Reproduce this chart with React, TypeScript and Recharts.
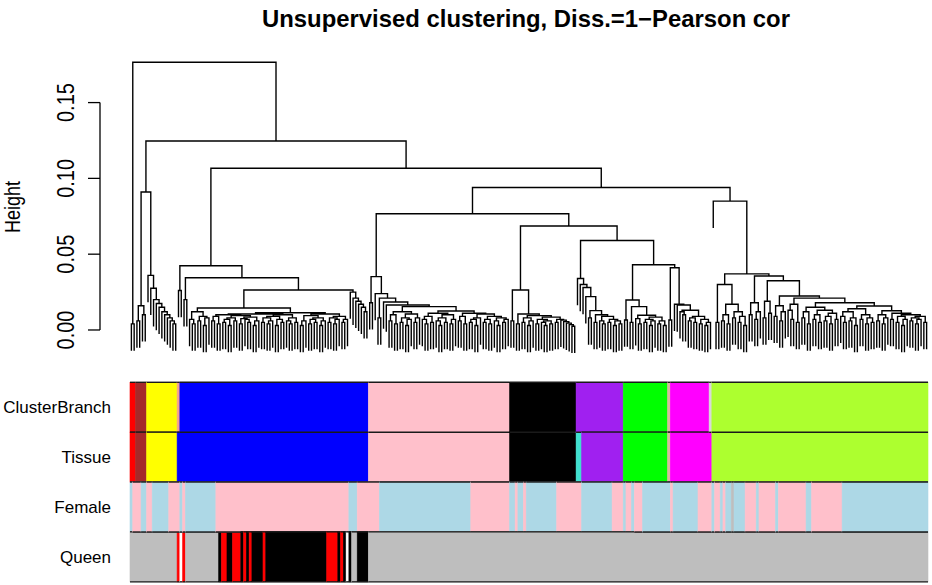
import React from "react";
import { LineChart, Line, XAxis, YAxis, ReferenceLine, BarChart, Bar } from "recharts";

// Dendrogram, stored as the merge height between each pair of neighbouring leaves
// (leaf order left to right). Grouped by module; joinHeights link the modules.
const redGaps = [0.004];
const brownGaps = [0.006, 0.016, 0.01];
const yellowGaps = [0.036, 0.0275, 0.02, 0.0175, 0.015, 0.012, 0.01, 0.008, 0.006, 0.004];
const blueGaps = [
  0.026, 0.0424, 0.02, 0.0345,
  0.007, 0.004, 0.012, 0.006, 0.009, 0.003, 0.008,
  0.0145,
  0.006, 0.009, 0.004, 0.01, 0.005, 0.007, 0.003, 0.008, 0.006, 0.0095, 0.004, 0.0075,
  0.007, 0.005, 0.0085, 0.003, 0.006, 0.0105, 0.005, 0.008, 0.004, 0.006, 0.009, 0.003,
  0.007, 0.005, 0.01, 0.006, 0.004, 0.008, 0.005, 0.0114, 0.003, 0.006, 0.0095, 0.004,
  0.007, 0.005, 0.008, 0.003, 0.006, 0.0105, 0.005, 0.008, 0.004, 0.007, 0.009, 0.005, 0.007,
  0.0264,
  0.025, 0.021, 0.019, 0.017, 0.015, 0.012,
];
const pinkGaps = [
  0.018, 0.0352, 0.024, 0.008, 0.021, 0.0185, 0.0165,
  0.006, 0.01, 0.004, 0.012, 0.005, 0.008, 0.003, 0.007, 0.0105, 0.005, 0.008,
  0.0154,
  0.007, 0.004, 0.009, 0.005, 0.011, 0.006, 0.003, 0.008, 0.005, 0.01, 0.004, 0.007,
  0.0125,
  0.006, 0.009, 0.004, 0.011, 0.005, 0.007, 0.003, 0.008, 0.0105, 0.005, 0.007, 0.004,
  0.009, 0.006, 0.003, 0.008, 0.005, 0.007,
];
const blackGaps = [
  0.006, 0.0264, 0.004, 0.0105, 0.005, 0.008, 0.003, 0.006, 0.0095, 0.004, 0.007, 0.005,
  0.003, 0.006, 0.004, 0.0085, 0.005, 0.007, 0.0065, 0.0055, 0.0045, 0.0035, 0.0025,
];
const purpleGaps = [0.034, 0.03, 0.028, 0.022, 0.008, 0.0128, 0.005, 0.01, 0.006, 0.004, 0.009, 0.005, 0.007, 0.003, 0.006, 0.004];
const greenGaps = [0.0066, 0.0198, 0.005, 0.0154, 0.0075, 0.004, 0.0097, 0.005, 0.007, 0.003, 0.006, 0.0085, 0.004, 0.006, 0.003];
const magentaGaps = [0.0066, 0.041, 0.017, 0.0165, 0.012, 0.01, 0.013, 0.006, 0.008, 0.005, 0.009, 0.004, 0.007, 0.003, 0.005];
const greenyellowGaps = [
  0.085, 0.005, 0.03, 0.006, 0.01, 0.004, 0.017, 0.008, 0.012, 0.005, 0.009, 0.003,
  0.037, 0.01, 0.018, 0.007, 0.012, 0.0356, 0.008, 0.019, 0.011, 0.0325,
  0.009, 0.016, 0.006, 0.012, 0.0224, 0.013, 0.007, 0.017, 0.005, 0.021,
  0.008, 0.012, 0.004, 0.015, 0.007, 0.01, 0.005, 0.013, 0.006, 0.009, 0.004, 0.011, 0.007,
  0.018,
  0.009, 0.005, 0.012, 0.006, 0.008, 0.003, 0.014, 0.007, 0.01, 0.004, 0.008, 0.005,
  0.0158,
  0.006, 0.01, 0.004, 0.008, 0.0127, 0.007, 0.011, 0.005, 0.009, 0.003, 0.007, 0.01,
  0.006, 0.008, 0.004, 0.007, 0.009, 0.005,
];
const joinHeights = [0.1766, 0.091, 0.1247, 0.1067, 0.0767, 0.0686, 0.059, 0.043, 0.094];
const heightTicks = [0, 0.05, 0.1, 0.15];

// colour rows under the tree: run labels and run lengths (in leaves)
const rowNames = ["ClusterBranch", "Tissue", "Female", "Queen"];
const clusterBranchLabels = ["red", "brown", "yellow", "salmon", "blue", "pink", "black", "purple", "green", "tan", "magenta", "lightgrey", "greenyellow"];
const clusterBranchCounts = [2, 4, 11, 1, 68, 51, 24, 17, 16, 1, 14, 1, 78];
const tissueLabels = ["red", "brown", "yellow", "blue", "pink", "black", "turquoise", "purple", "green", "tan", "magenta", "greenyellow"];
const tissueCounts = [2, 4, 11, 69, 51, 24, 2, 15, 16, 1, 15, 78];
const femaleLabels = [
  "lightblue", "pink", "lightblue", "pink", "lightblue", "pink", "lightblue", "pink", "lightblue", "pink",
  "lightblue", "pink", "lightblue", "pink", "lightblue", "pink", "lightblue", "pink", "lightblue", "pink",
  "lightblue", "pink", "lightblue", "pink", "lightblue", "pink", "lightblue", "pink", "lightblue", "pink",
  "lightblue", "pink", "lightblue", "pink", "lightblue", "grey", "lightblue", "pink", "lightblue", "pink",
  "lightblue", "pink", "lightblue", "pink", "lightblue",
];
const femaleCounts = [
  1, 3, 2, 2, 6, 4, 1, 1, 11, 48,
  3, 8, 33, 14, 2, 1, 2, 1, 11, 9,
  11, 4, 1, 2, 1, 3, 10, 1, 9, 5,
  1, 2, 1, 1, 2, 1, 4, 4, 1, 6,
  1, 10, 2, 11, 31,
];
const queenLabels = [
  "grey", "red", "white", "red", "grey", "black", "red", "black", "red", "black",
  "red", "black", "red", "black", "red", "black", "red", "black", "red", "black",
  "white", "black", "grey", "black", "grey",
];
const queenCounts = [17, 1, 1, 1, 12, 1, 2, 2, 3, 1, 1, 1, 1, 4, 1, 22, 4, 1, 1, 1, 1, 1, 2, 4, 202];

const palette: Record<string, string> = {
  red: "#FF0000", brown: "#A52A2A", yellow: "#FFFF00", salmon: "#F4A08C", blue: "#0000FF",
  pink: "#FFC0CB", black: "#000000", purple: "#A020F0", green: "#00FF00", tan: "#D8B8A0",
  magenta: "#FF00FF", lightgrey: "#D8D8D8", greenyellow: "#ADFF2F", turquoise: "#40E0D0",
  lightblue: "#ADD8E6", grey: "#BEBEBE", white: "#FFFFFF",
};

// ---- build the tree from the neighbour heights ----
const gaps: number[] = [];
const clusterGaps = [redGaps, brownGaps, yellowGaps, blueGaps, pinkGaps, blackGaps, purpleGaps, greenGaps, magentaGaps, greenyellowGaps];
clusterGaps.forEach((g, i) => {
  gaps.push(...g);
  if (i < joinHeights.length) gaps.push(joinHeights[i]);
});
const N = gaps.length + 1;
const HANG = 0.1 * Math.max(...gaps);

type Pt = { x: number; y: number | null };
type Nd = { x: number; h: number; leaf: boolean };

function buildTree(lo: number, hi: number, out: Pt[]): Nd {
  if (lo === hi) return { x: lo + 0.5, h: 0, leaf: true };
  let k = lo;
  for (let i = lo + 1; i < hi; i++) if (gaps[i] > gaps[k]) k = i;
  const h = gaps[k];
  const l = buildTree(lo, k, out);
  const r = buildTree(k + 1, hi, out);
  out.push(
    { x: l.x, y: l.leaf ? h - HANG : l.h },
    { x: l.x, y: h },
    { x: r.x, y: h },
    { x: r.x, y: r.leaf ? h - HANG : r.h },
    { x: r.x, y: null }
  );
  return { x: (l.x + r.x) / 2, h, leaf: false };
}

const dendroPoints: Pt[] = [];
buildTree(0, N - 1, dendroPoints);

const rowRuns = [
  { labels: clusterBranchLabels, counts: clusterBranchCounts },
  { labels: tissueLabels, counts: tissueCounts },
  { labels: femaleLabels, counts: femaleCounts },
  { labels: queenLabels, counts: queenCounts },
];
const maxRuns = Math.max(...rowRuns.map((r) => r.counts.length));
const barRows = rowNames.map((name, r) => {
  const row: any = { name };
  rowRuns[r].counts.forEach((c, j) => (row["s" + j] = c));
  return row;
});

// layout
const W = 932;
const PLOT_LEFT = 100; // y axis position
const LEAF_LEFT = 130;
const LEAF_RIGHT = 928;
const xMin = -(LEAF_LEFT - PLOT_LEFT) / ((LEAF_RIGHT - LEAF_LEFT) / N);

const HeightTick = (p: any) => (
  <text
    transform={`translate(73.5,${p.y}) scale(1.2,1) rotate(-90)`}
    textAnchor="middle"
    fontSize={20}
    fill="#000"
  >
    {Number(p.payload.value).toFixed(2)}
  </text>
);

const runShape = (j: number) => (p: any) => {
  const lab = rowRuns[p.index] ? rowRuns[p.index].labels[j] : undefined;
  if (!lab || !p.width) return <g />;
  const fill = palette[lab];
  return (
    <g>
      <rect x={p.x} y={p.y} width={p.width} height={p.height} fill={fill} stroke={fill} strokeWidth={0.6} />
      <line x1={p.x} x2={p.x + p.width} y1={p.y} y2={p.y} stroke="#1a1a1a" strokeWidth={1.4} />
      <line x1={p.x} x2={p.x + p.width} y1={p.y + p.height} y2={p.y + p.height} stroke="#1a1a1a" strokeWidth={1.4} />
    </g>
  );
};

export default function App() {
  return (
    <div
      style={{
        position: "absolute",
        left: 0,
        top: 0,
        width: W,
        height: 585,
        background: "#fff",
        fontFamily: "'Liberation Sans', Arial, Helvetica, sans-serif",
      }}
    >
      <div style={{ position: "absolute", left: 0, top: 0 }}>
        <LineChart width={W} height={370} data={dendroPoints} margin={{ top: 57.1, right: W - LEAF_RIGHT, bottom: 9.7, left: 40 }}>
          <XAxis type="number" dataKey="x" domain={[xMin, N]} hide allowDataOverflow />
          <YAxis
            type="number"
            domain={[-0.02, 0.18]}
            ticks={heightTicks}
            width={60}
            axisLine={false}
            tickLine={{ stroke: "#000", strokeWidth: 1.3 }}
            tickSize={12}
            tick={<HeightTick />}
            allowDataOverflow
          />
          <ReferenceLine
            segment={[{ x: xMin, y: heightTicks[0] }, { x: xMin, y: heightTicks[heightTicks.length - 1] }]}
            stroke="#000"
            strokeWidth={1.3}
            ifOverflow="visible"
          />
          <Line
            type="linear"
            dataKey="y"
            stroke="#000"
            strokeWidth={1.4}
            dot={false}
            activeDot={false}
            connectNulls={false}
            isAnimationActive={false}
          />
        </LineChart>
      </div>

      <div style={{ position: "absolute", left: 0, top: 370 }}>
        <BarChart
          width={W}
          height={215}
          layout="vertical"
          data={barRows}
          barCategoryGap={0}
          margin={{ top: 12.3, right: W - LEAF_RIGHT, bottom: 3.3, left: 10 }}
        >
          <XAxis type="number" domain={[0, N]} hide />
          <YAxis
            type="category"
            dataKey="name"
            width={120}
            axisLine={false}
            tickLine={false}
            tickSize={0}
            tickMargin={19}
            tick={{ fontSize: 17, fill: "#000" }}
          />
          {Array.from({ length: maxRuns }, (_, j) => (
            <Bar key={j} dataKey={"s" + j} stackId="runs" shape={runShape(j)} isAnimationActive={false} />
          ))}
        </BarChart>
      </div>

      <svg width={W} height={585} style={{ position: "absolute", left: 0, top: 0, pointerEvents: "none" }}>
        <text x={526} y={27} textAnchor="middle" fontSize={24} fontWeight="bold" textLength={528} lengthAdjust="spacingAndGlyphs" fill="#000">
          Unsupervised clustering, Diss.=1−Pearson cor
        </text>
        <text transform="translate(20,207) scale(1.2,1) rotate(-90)" textAnchor="middle" fontSize={18} fill="#000">
          Height
        </text>
      </svg>
    </div>
  );
}
